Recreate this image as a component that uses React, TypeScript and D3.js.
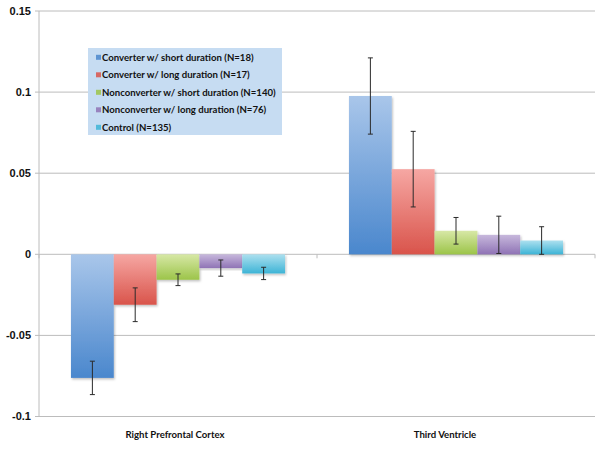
import React from "react";
import * as d3 from "d3";

const categories = ["Right Prefrontal Cortex", "Third Ventricle"];
const seriesNames = [
  "Converter w/ short duration (N=18)",
  "Converter w/ long duration (N=17)",
  "Nonconverter w/ short duration (N=140)",
  "Nonconverter w/ long duration (N=76)",
  "Control (N=135)",
];
const rpcValues = [-0.0762, -0.0311, -0.0157, -0.0085, -0.0118];
const rpcErrors = [0.0103, 0.0104, 0.0036, 0.005, 0.0038];
const tvValues = [0.0976, 0.0525, 0.0145, 0.012, 0.0085];
const tvErrors = [0.0235, 0.0233, 0.0082, 0.0115, 0.0085];
const yTicks = [-0.1, -0.05, 0, 0.05, 0.1, 0.15];
const yTickLabels = ["-0.1", "-0.05", "0", "0.05", "0.1", "0.15"];

const colorsTop = ["#a9c6ea", "#f6a7a3", "#d7e8a6", "#c7b8dc", "#ade0ef"];
const colorsBottom = ["#4a87cd", "#d9544b", "#9cc449", "#8f73b5", "#3db4d6"];
const labelShift = [-3, -11];

const W = 603;
const H = 449;
const left = 39;
const right = 595;
const top = 11;
const bottom = 416.5;

export default function App() {
  const x0 = d3.scaleBand<string>().domain(categories).range([left, right]).paddingInner(0).paddingOuter(0);
  const groupW = x0.bandwidth() * 0.77;
  const x1 = d3
    .scaleBand<number>()
    .domain(d3.range(seriesNames.length))
    .range([(x0.bandwidth() - groupW) / 2, (x0.bandwidth() + groupW) / 2]);
  const y = d3.scaleLinear().domain([-0.1, 0.15]).range([bottom, top]);
  const data = [
    { cat: categories[0], values: rpcValues, errors: rpcErrors },
    { cat: categories[1], values: tvValues, errors: tvErrors },
  ];
  const font = "Lato, 'Open Sans', sans-serif";
  const legendRows = seriesNames.map((n, i) => ({ n, i }));
  return (
    <svg width={W} height={H} style={{ position: "absolute", left: 0, top: 0 }} fontFamily={font}>
      <defs>
        {colorsTop.map((c, i) => (
          <linearGradient key={i} id={`g${i}`} x1="0" y1="0" x2="0" y2="1">
            <stop offset="0%" stopColor={c} />
            <stop offset="100%" stopColor={colorsBottom[i]} />
          </linearGradient>
        ))}
        <filter id="sh" x="-10%" y="-10%" width="130%" height="130%">
          <feDropShadow dx="1" dy="1.5" stdDeviation="1" floodColor="#000" floodOpacity="0.25" />
        </filter>
      </defs>
      <rect width={W} height={H} fill="#fff" />
      {yTicks.map((t, i) => (
        <g key={i}>
          <line x1={left - 4} x2={right} y1={y(t)} y2={y(t)} stroke="#bcbcbc" strokeWidth={1} />
          <text
            x={31}
            y={y(t)}
            dy="0.35em"
            textAnchor="end"
            fontFamily="'Liberation Sans', Arial, sans-serif"
            fontWeight="bold"
            fontSize={11}
            fill="#111"
          >
            {yTickLabels[i]}
          </text>
        </g>
      ))}
      <line x1={left} x2={left} y1={top} y2={bottom} stroke="#bcbcbc" strokeWidth={1} />
      {[left, x0(categories[1])!, right].map((xx, i) => (
        <line key={i} x1={xx} x2={xx} y1={y(0)} y2={y(0) + 4} stroke="#bcbcbc" />
      ))}
      {data.map((d, di) => (
        <g key={d.cat} transform={`translate(${x0(d.cat)},0)`}>
          {d.values.map((v, i) => {
            const y0 = y(Math.max(0, v));
            const h = Math.abs(y(v) - y(0));
            return (
              <rect
                key={i}
                x={x1(i)}
                y={y0}
                width={x1.bandwidth()}
                height={h}
                fill={`url(#g${i})`}
                filter="url(#sh)"
              />
            );
          })}
          {d.values.map((v, i) => {
            const cx = x1(i)! + x1.bandwidth() / 2;
            const ya = y(v + d.errors[i]);
            const yb = y(v - d.errors[i]);
            return (
              <g key={"e" + i} stroke="#2a2a2a" strokeWidth={1}>
                <line x1={cx} x2={cx} y1={ya} y2={yb} />
                <line x1={cx - 2.5} x2={cx + 2.5} y1={ya} y2={ya} />
                <line x1={cx - 2.5} x2={cx + 2.5} y1={yb} y2={yb} />
              </g>
            );
          })}
          <text
            x={x0.bandwidth() / 2 + labelShift[di]}
            y={435}
            dy="0.35em"
            textAnchor="middle"
            fontWeight="bold"
            fontSize={9.6}
            fill="#111"
          >
            {d.cat}
          </text>
        </g>
      ))}
      <g>
        <rect x={88} y={48} width={194} height={87} fill="#c6dcf2" />
        {legendRows.map(({ n, i }) => {
          const ry = 57.3 + i * 17.5;
          return (
            <g key={i}>
              <rect x={96} y={ry - 2.5} width={5} height={5} fill={colorsBottom[i]} opacity={0.85} />
              <text x={102} y={ry} dy="0.35em" fontWeight="bold" fontSize={9.6} fill="#111">
                {n}
              </text>
            </g>
          );
        })}
      </g>
    </svg>
  );
}
